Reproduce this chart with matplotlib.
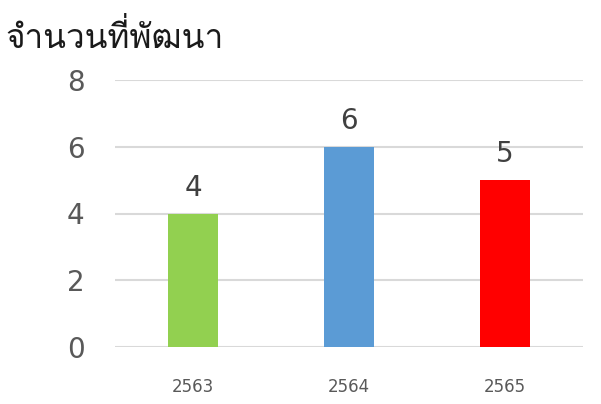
import matplotlib
matplotlib.use("Agg")
import matplotlib.pyplot as plt
from matplotlib import font_manager
from matplotlib.ft2font import FT2Font

years = ["2563", "2564", "2565"]
counts = [4, 6, 5]
bar_colors = ["#92d050", "#5b9bd5", "#ff0000"]
title_text = "จำนวนที่พัฒนา"


def thai_family() -> str:
    # prefer a regular-weight face that carries Thai glyphs
    found = []
    for entry in font_manager.fontManager.ttflist:
        try:
            if FT2Font(entry.fname).get_char_index(ord("จ")):
                found.append(entry)
        except Exception:
            continue

    def weight_gap(e):
        try:
            return abs(int(e.weight) - 400)
        except (TypeError, ValueError):
            return 0 if e.weight in ("normal", "regular") else 500

    found.sort(key=lambda e: (e.style != "normal", weight_gap(e)))
    return found[0].name if found else "DejaVu Sans"


thai = thai_family()

fig = plt.figure(figsize=(6.01, 4.04), dpi=100)
ax = fig.add_axes([115 / 601, 1 - 347 / 404, 468 / 601, 267 / 404])

x = range(len(years))
ax.bar(x, counts, width=0.32, color=bar_colors, zorder=3)
for xi, v in zip(x, counts):
    ax.text(xi, v + 0.35, str(v), ha="center", va="bottom", fontsize=20, color="#404040")

ax.set_xlim(-0.5, 2.5)
ax.set_ylim(0, 8)
ax.set_yticks([0, 2, 4, 6, 8])
ax.set_yticklabels(["0", "2", "4", "6", "8"], fontsize=20, color="#595959")
ax.set_xticks(list(x))
ax.set_xticklabels(years, fontsize=12, color="#595959")
ax.tick_params(axis="y", length=0, pad=22)
ax.tick_params(axis="x", length=0, pad=22)
ax.grid(axis="y", color="#d9d9d9", linewidth=1.5, zorder=0)
ax.set_axisbelow(True)
for s in ax.spines.values():
    s.set_visible(False)

fig.text(5 / 601, 1 - 48 / 404, title_text, fontsize=24, color="#1a1a1a", ha="left",
         va="baseline", family=[thai, "DejaVu Sans"])

fig.savefig("out.png", dpi=100)
